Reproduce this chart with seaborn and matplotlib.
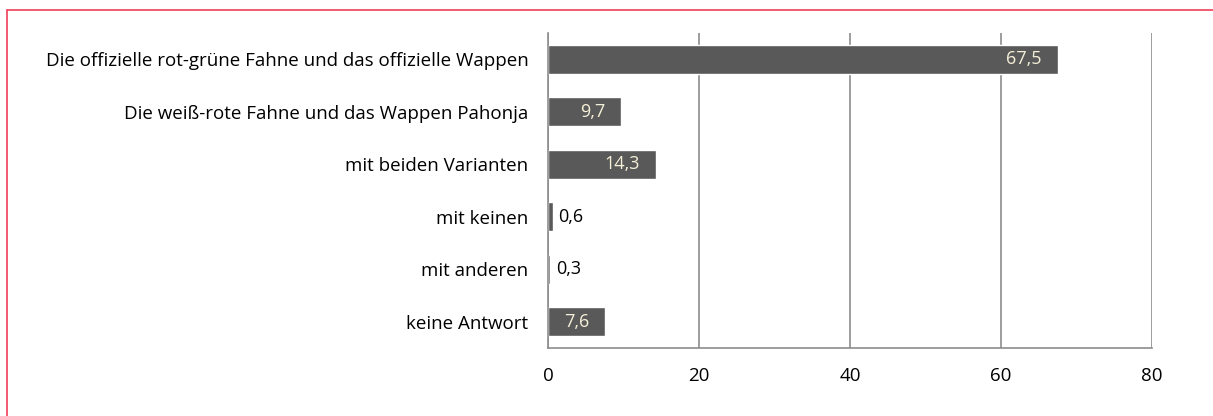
import matplotlib
matplotlib.use('Agg')
import matplotlib.pyplot as plt
import seaborn as sns
import pandas as pd
from matplotlib.lines import Line2D

categories = ['Die offizielle rot-grüne Fahne und das offizielle Wappen',
              'Die weiß-rote Fahne und das Wappen Pahonja',
              'mit beiden Varianten',
              'mit keinen',
              'mit anderen',
              'keine Antwort']
values = [67.5, 9.7, 14.3, 0.6, 0.3, 7.6]
xticks = [0, 20, 40, 60, 80]

df = pd.DataFrame({'Antwort': categories, 'Wert': values})

sns.set_style('white')
plt.rcParams['font.family'] = ['Open Sans', 'DejaVu Sans']

fig = plt.figure(figsize=(12.13, 4.16), dpi=100)
ax = fig.add_axes([548/1213, 1 - 348/416, (1152-548)/1213, (348-33)/416])

sns.barplot(data=df, y='Antwort', x='Wert', color='#595959', saturation=1,
            width=0.55, ax=ax, orient='h')

ax.set_xlim(0, 80)
ax.set_ylim(5.5, -0.5)
ax.set_xticks(xticks)
ax.set_xticklabels([str(t) for t in xticks], fontsize=13.5, color='black')
ax.set_xlabel('')
ax.set_ylabel('')
ax.grid(axis='x', color='#8c8c8c', linewidth=1.2)
ax.set_axisbelow(True)

for s in ['top', 'right']:
    ax.spines[s].set_visible(False)
for s in ['left', 'bottom']:
    ax.spines[s].set_color('#8c8c8c')
    ax.spines[s].set_linewidth(1.2)

# category labels without ticks at centers, ticks at band boundaries
ax.set_yticks(range(len(categories)))
ax.set_yticklabels(categories, fontsize=13.5, color='black')
ax.tick_params(axis='y', length=0, pad=14)
ax.set_yticks([i - 0.5 for i in range(len(categories) + 1)], minor=True)
ax.tick_params(axis='y', which='minor', length=6, color='#8c8c8c', width=1.2)
ax.tick_params(axis='x', length=6, color='#8c8c8c', width=1.2, pad=8)

for i, v in enumerate(values):
    lbl = f'{v:.1f}'.replace('.', ',')
    if v > 3:
        ax.annotate(lbl, (v, i), xytext=(-11.5, 0), textcoords='offset points',
                    ha='right', va='center', fontsize=13, color='#f5f0d8')
    else:
        ax.annotate(lbl, (v, i), xytext=(4, 0), textcoords='offset points',
                    ha='left', va='center', fontsize=13, color='black')

# red frame around the chart
fig.add_artist(Line2D([7/1213, 1.01], [1 - 10/416, 1 - 10/416],
                      transform=fig.transFigure, color='#f0405a', linewidth=1.2))
fig.add_artist(Line2D([7/1213, 7/1213], [1 - 10/416, -0.01],
                      transform=fig.transFigure, color='#f0405a', linewidth=1.2))

fig.savefig('out.png', dpi=100)
